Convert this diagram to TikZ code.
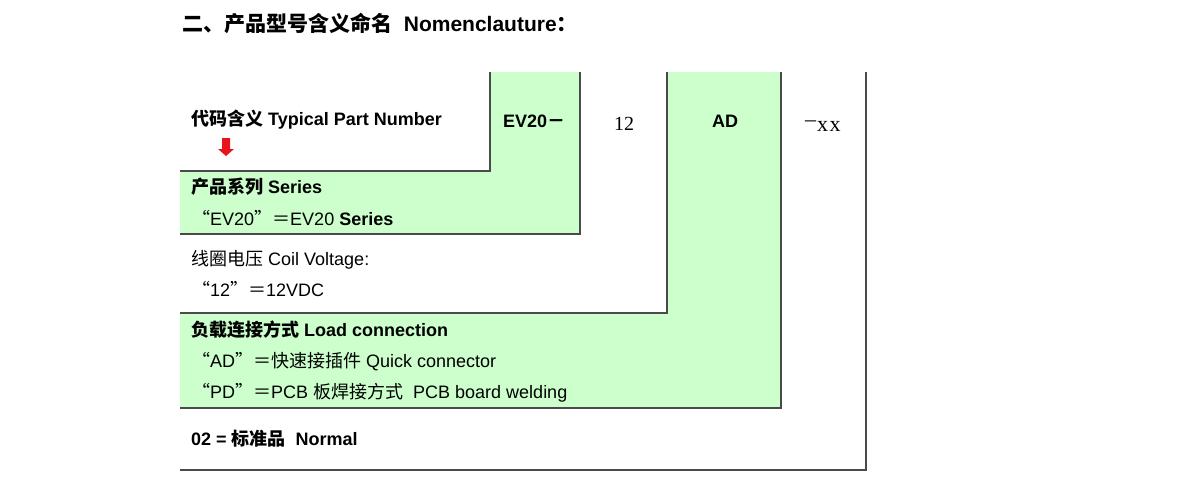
\documentclass[tikz,border=0pt]{standalone}
\usepackage{fontspec}
\setmainfont{Liberation Sans}
\newfontfamily\cjk{Noto Sans CJK SC}
\newfontfamily\numserif{Liberation Serif}
\newcommand\zh[1]{{\cjk #1}}
\definecolor{partgreen}{HTML}{CCFFCC}
\definecolor{rulegray}{HTML}{4A4A4A}
\definecolor{arrowred}{HTML}{E8141B}

\begin{document}
\begin{tikzpicture}[x=1pt,y=-1pt,
  rule/.style={draw=rulegray,line width=1.5pt},
  lbl/.style={anchor=base west,inner sep=0pt,font=\fontsize{18}{20}\selectfont},
  code/.style={anchor=base,inner sep=0pt,font=\fontsize{18}{20}\selectfont}]

  \useasboundingbox (0,0) rectangle (1200,487);

  %% green fields
  \fill[partgreen] (180,171) -- (490,171) -- (490,72) -- (580,72)
    -- (580,234) -- (180,234) -- cycle; %% series
  \fill[partgreen] (180,313) -- (667,313) -- (667,72) -- (781,72)
    -- (781,408) -- (180,408) -- cycle; %% load connection

  %% rules
  \draw[rule] (180,171) -- (490,171) -- (490,72);
  \draw[rule] (580,72) -- (580,234) -- (180,234); %% series
  \draw[rule] (667,72) -- (667,313) -- (180,313); %% coil
  \draw[rule] (781,72) -- (781,408) -- (180,408); %% load
  \draw[rule] (866,72) -- (866,470) -- (180,470); %% normal

  %% title
  \node[anchor=base west,inner sep=0pt,font=\fontsize{21}{24}\selectfont\bfseries]
    (title) at (182,32) {\zh{二、产品型号含义命名}\ \ Nomenclauture\zh{：}};

  %% part number
  \node[lbl,font=\fontsize{18}{20}\selectfont\bfseries] (typical) at (191,125.5)
    {\zh{代码含义} Typical Part Number};
  \fill[arrowred] (222,138) -- (230,138) -- (230,149) -- (234,149)
    -- (226,156) -- (218,149) -- (222,149) -- cycle; %% down arrow
  \node[lbl,font=\fontsize{18}{20}\selectfont\bfseries] (ev) at (503,128) {EV20\zh{－}};
  \node[code,font=\fontsize{20}{22}\selectfont\numserif] (volt) at (624,130) {12};
  \node[code,font=\fontsize{18}{20}\selectfont\bfseries] (ad) at (725,128) {AD};
  \node[lbl,font=\fontsize{22}{24}\selectfont\numserif] (xx) at (805,131)
    {\raisebox{5pt}{\char"2013}\hspace{1pt}x\hspace{1.5pt}x};

  %% series
  \node[lbl,font=\fontsize{18}{20}\selectfont\bfseries] (series) at (191,193.5)
    {\zh{产品系列} Series};
  \node[lbl] (seriesev) at (192,225.5) {\zh{“}EV20\zh{”＝}EV20 \textbf{Series}};

  %% coil voltage
  \node[lbl] (coil) at (191,265.5) {\zh{线圈电压} Coil Voltage:};
  \node[lbl] (coil12) at (192,296.5) {\zh{“}12\zh{”＝}12VDC};

  %% load connection
  \node[lbl,font=\fontsize{18}{20}\selectfont\bfseries] (load) at (191,336.5)
    {\zh{负载连接方式} Load connection};
  \node[lbl] (loadad) at (192,367.5) {\zh{“}AD\zh{”＝快速接插件} Quick connector};
  \node[lbl] (loadpd) at (192,398.5)
    {\zh{“}PD\zh{”＝}PCB \zh{板焊接方式}\ \ PCB board welding};

  %% suffix
  \node[lbl,font=\fontsize{18}{20}\selectfont\bfseries] (normal) at (191,445.5)
    {02 = \zh{标准品}\ \ Normal};

\end{tikzpicture}
\end{document}
